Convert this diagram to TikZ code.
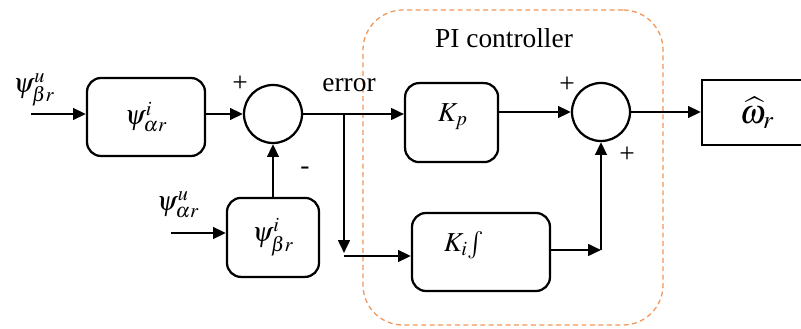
\documentclass[tikz,border=0pt]{standalone}
\usepackage{mathptmx}
\usepackage{fontspec}
\setmainfont{Liberation Serif}
\usetikzlibrary{arrows.meta,positioning,calc}
\definecolor{piorange}{RGB}{242,150,90}

\begin{document}
\begin{tikzpicture}[
		font=\fontsize{19.5}{23}\selectfont,
		blk/.style={draw, line width=1.6pt, rounded corners=0.35cm, inner sep=0pt},
		outbox/.style={draw, line width=1.6pt, inner sep=0pt},
		sum/.style={circle, draw, line width=1.6pt, minimum size=1.45cm, inner sep=0pt},
		ar/.style={line width=1.6pt, -{Triangle[length=3.2mm,width=2.9mm]}},
		grp/.style={draw=piorange, dash pattern=on 3.5pt off 2.5pt, line width=0.9pt, rounded corners=1cm, minimum width=7.5cm, minimum height=7.875cm}
		]
		\useasboundingbox (0,0) rectangle (20.025,8.225);
		% PI controller frame
		\node[grp] (pi) at (12.825,4.0375) {};
		\node (pilab) at (12.6,7.275) {PI controller};
		% blocks
		\node[blk, minimum width=2.95cm, minimum height=1.95cm] (g1) at (3.65,5.3) {$\psi^{i}_{\alpha r}$};
		\node[blk, minimum width=2.3cm, minimum height=1.975cm] (g2) at (6.825,2.29) {$\psi^{i}_{\beta r}$};
		\node[sum] (s1) at (6.825,5.375) {};
		\node[blk, minimum width=2.325cm, minimum height=1.975cm] (kp) at (11.29,5.16) {};
		\node (kptxt) at (11.32,5.3) {$K_p$};
		\node[blk, minimum width=3.45cm, minimum height=1.95cm] (ki) at (12.025,1.925) {};
		\node (kitxt) at (11.6,2.1) {$K_i\!\int$};
		\node[sum] (s2) at (15.025,5.425) {};
		\node[outbox, minimum width=2.75cm, minimum height=1.625cm, font=\fontsize{24}{28}\selectfont] (w) at (18.925,5.41) {$\widehat{\omega}_r$};
		% inputs and labels
		\coordinate (in1) at (0.775,5.375);
		\coordinate (in2) at (4.275,2.4);
		\node (ub) at (0.85,5.975) {$\psi^{u}_{\beta r}$};
		\node (ua) at (4.45,3.1) {$\psi^{u}_{\alpha r}$};
		\node (err) at (8.725,6.1) {error};
		\node (p1) at (6.0,6.125) {+};
		\node (m1) at (7.625,3.95) {-};
		\node (p2) at (14.175,6.1) {+};
		\node (p3) at (15.675,4.35) {+};
		% branch points
		\coordinate (br) at (8.6,5.375);
		\coordinate (dn) at (8.6,1.9);
		\coordinate (cn) at (8.6,1.825);
		\coordinate (kc) at (15.025,1.975);
		% connectors
		\draw[ar] (in1) -- (in1 -| g1.west);
		\draw[ar] (g1.east |- s1) -- (s1.west);
		\draw[ar] (in2) -- (in2 -| g2.west);
		\draw[ar] (g2.north) -- (s1.south);
		\draw[ar] (s1.east) -- (br) -- (br -| kp.west);
		\draw[ar] (br) -- (dn);
		\draw[ar] (cn) -- (cn -| ki.west);
		\draw[ar] (kp.east |- s2) -- (s2.west);
		\draw[ar] (ki.east |- kc) -- (kc);
		\draw[ar] (kc) -- (s2.south);
		\draw[ar] (s2.east) -- (s2.east -| w.west);
	\end{tikzpicture}
\end{document}
